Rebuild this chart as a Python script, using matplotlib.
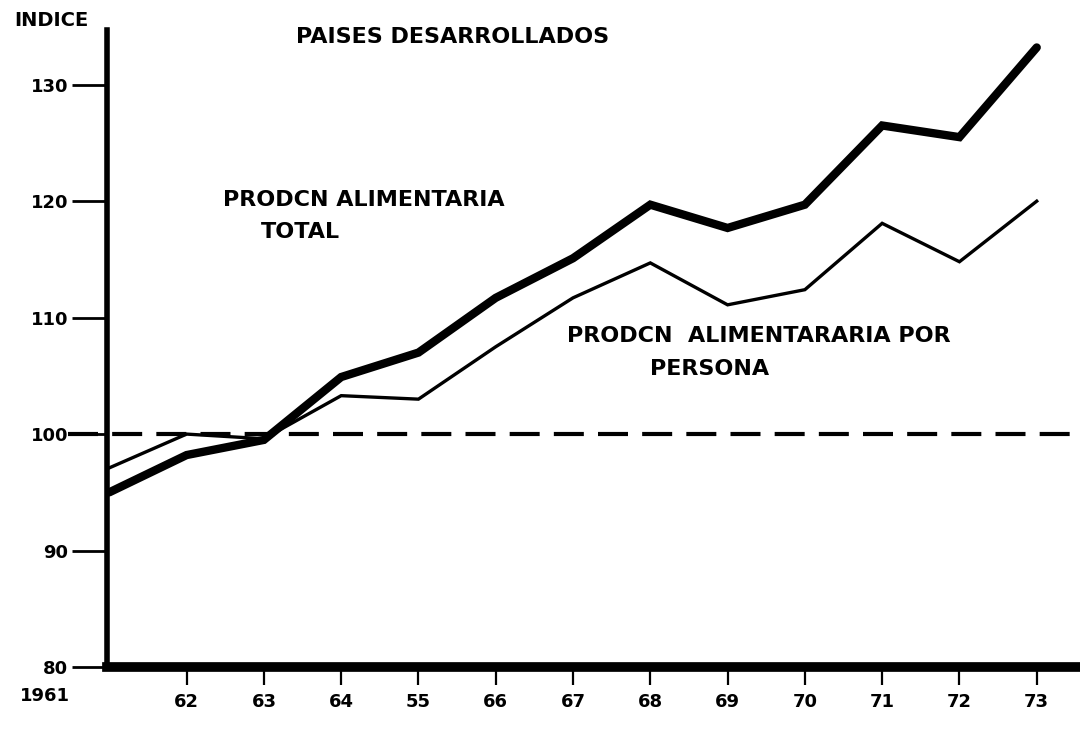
import matplotlib
matplotlib.use("Agg")
import matplotlib.pyplot as plt
from matplotlib.transforms import ScaledTranslation

# ===== データ =====
years = [1961, 1962, 1963, 1964, 1965, 1966, 1967, 1968, 1969, 1970, 1971, 1972, 1973]
year_labels = ["1961", "62", "63", "64", "55", "66", "67", "68", "69", "70", "71", "72", "73"]
total = [95.0, 98.2, 99.5, 104.9, 107.0, 111.7, 115.1, 119.7, 117.7, 119.7, 126.5, 125.5, 133.2]
per_persona = [97.1, 100.0, 99.6, 103.3, 103.0, 107.5, 111.7, 114.7, 111.1, 112.4, 118.1, 114.8, 120.0]
base = 100
yticks = [80, 90, 100, 110, 120, 130]

plt.rcParams['font.family'] = ['DejaVu Sans']
plt.rcParams['font.weight'] = 'bold'

W, H = 1080, 732
fig = plt.figure(figsize=(W / 100, H / 100), dpi=100)
ax = fig.add_axes([107 / W, 1 - 667 / H, (W - 107) / W, (667 - 30) / H])

ax.plot(years, total, color='black', lw=6, solid_joinstyle='miter', solid_capstyle='round')
ax.plot(years, per_persona, color='black', lw=2.4, solid_joinstyle='miter')
ax.axhline(base, color='black', lw=3, dashes=(7.2, 3.4), xmin=-0.04, clip_on=False)

ax.set_xlim(1960.97, 1973.56)
ax.set_ylim(80, 134.7)

for s in ['top', 'right']:
    ax.spines[s].set_visible(False)
ax.spines['left'].set_linewidth(4)
ax.spines['bottom'].set_linewidth(7)

ax.set_yticks(yticks)
ax.set_yticklabels([str(v) for v in yticks])
ax.tick_params(axis='y', length=25, width=2, pad=3, labelsize=13)
ax.set_xticks(years)
ax.set_xticklabels(year_labels)
ax.tick_params(axis='x', length=13, width=1.6, pad=6, labelsize=13)

# 1961 は目盛りなし、ラベルを左へずらす
t0 = ax.xaxis.get_major_ticks()[0]
t0.tick1line.set_visible(False)
lab0 = ax.get_xticklabels()[0]
lab0.set_transform(lab0.get_transform() + ScaledTranslation(-0.64, 0.06, fig.dpi_scale_trans))

def ftext(x, y, s, size=16, **kw):
    fig.text(x / W, 1 - y / H, s, fontsize=size, fontweight='bold', va='center', **kw)

ftext(14, 20, "INDICE", size=14, ha='left')
ftext(453, 37, "PAISES DESARROLLADOS", ha='center')
ftext(364, 200, "PRODCN ALIMENTARIA", ha='center')
ftext(300, 232, "TOTAL", ha='center')
ftext(759, 336, "PRODCN  ALIMENTARARIA POR", ha='center')
ftext(710, 369, "PERSONA", ha='center')

fig.savefig("out.png", dpi=100)
